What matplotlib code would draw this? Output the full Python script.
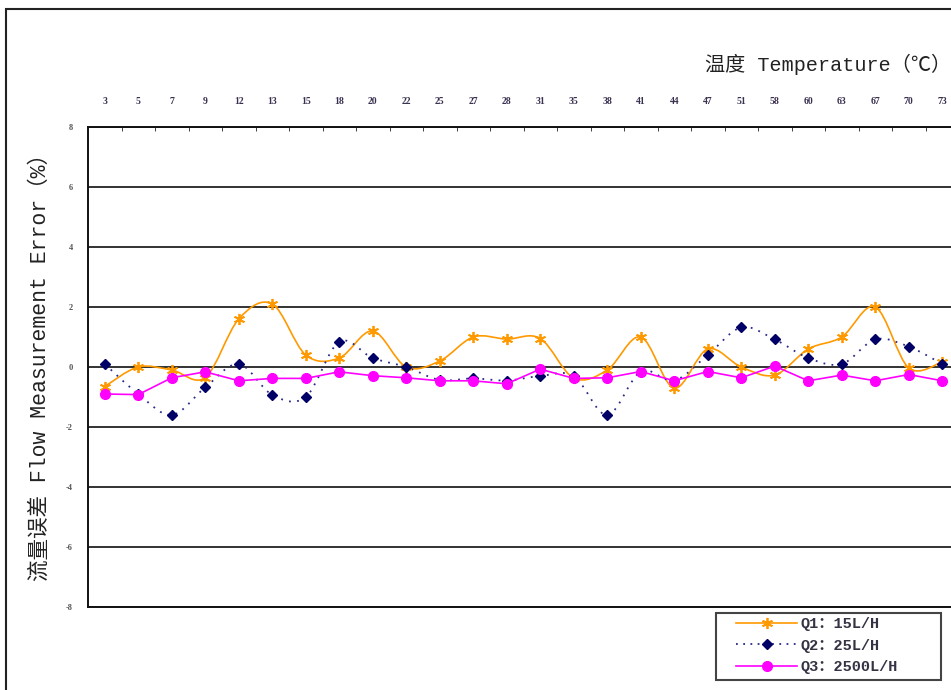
import matplotlib.pyplot as plt
import numpy as np
from matplotlib.path import Path
from matplotlib.patches import PathPatch, Rectangle
from matplotlib.lines import Line2D

# ---- Data ----
temps = ["3", "5", "7", "9", "12", "13", "15", "18", "20", "22", "25", "27", "28",
         "31", "35", "38", "41", "44", "47", "51", "58", "60", "63", "67", "70", "73"]
q1 = [-0.65, 0.0, -0.1, -0.35, 1.6, 2.1, 0.4, 0.3, 1.2, 0.0, 0.2, 1.0, 0.93,
      0.95, -0.37, -0.1, 1.0, -0.7, 0.6, 0.0, -0.27, 0.6, 1.0, 2.0, -0.03, 0.17]
q2 = [0.1, -0.9, -1.6, -0.68, 0.1, -0.93, -1.0, 0.84, 0.3, 0.0, -0.43, -0.38, -0.45,
      -0.3, -0.3, -1.6, -0.15, -0.45, 0.4, 1.32, 0.92, 0.3, 0.1, 0.92, 0.68, 0.1]
q3 = [-0.9, -0.92, -0.36, -0.16, -0.46, -0.38, -0.38, -0.16, -0.29, -0.36, -0.46, -0.46, -0.56,
      -0.07, -0.38, -0.36, -0.15, -0.46, -0.15, -0.36, 0.03, -0.46, -0.27, -0.46, -0.25, -0.46]
labels = ["Q1：15L/H", "Q2：25L/H", "Q3：2500L/H"]

C1 = "#FF9900"
C2 = "#000066"
C3 = "#FF00FF"

LATIN_CJK = ["Liberation Mono", "Noto Sans CJK SC", "DejaVu Sans"]
SERIF = ["Liberation Serif", "DejaVu Serif"]


def smooth_path(x, y):
    # Excel-style smoothed line: cubic Bezier with Catmull-Rom control points
    pts = np.column_stack([x, y]).astype(float)
    n = len(pts)
    verts = [pts[0]]
    codes = [Path.MOVETO]
    for i in range(n - 1):
        p0 = pts[i - 1] if i > 0 else pts[i]
        p1 = pts[i]
        p2 = pts[i + 1]
        p3 = pts[i + 2] if i + 2 < n else pts[i + 1]
        verts += [p1 + (p2 - p0) / 6, p2 - (p3 - p1) / 6, p2]
        codes += [Path.CURVE4] * 3
    return Path(verts, codes)


fig = plt.figure(figsize=(9.51, 6.9), dpi=100)
W, H = 951, 690
ax = fig.add_axes([88 / W, 1 - 607 / H, (959 - 88) / W, 480 / H])

x = np.arange(len(temps))

# Q1 smoothed solid orange with asterisk markers
ax.add_patch(PathPatch(smooth_path(x, q1), facecolor="none", edgecolor=C1, lw=1.2, zorder=3))
ax.plot(x, q1, linestyle="none", marker=(6, 2, 0), markersize=8, markeredgecolor=C1,
        markeredgewidth=1.3, zorder=4)

# Q2 smoothed dotted navy with diamonds
ax.add_patch(PathPatch(smooth_path(x, q2), facecolor="none", edgecolor="#2a2a8a", lw=1.3,
                       linestyle=(0, (1, 3.5)), zorder=3))
ax.plot(x, q2, linestyle="none", marker="D", markersize=5.5, color=C2, zorder=4)

# Q3 straight magenta with circles
ax.plot(x, q3, color=C3, lw=1.2, marker="o", markersize=7, zorder=4)

ax.set_xlim(-0.5, len(temps) - 0.5)
ax.set_ylim(-8, 8)

ax.set_yticks(np.arange(-8, 9, 2))
ax.set_yticklabels([str(v) for v in range(-8, 9, 2)], fontsize=6, fontweight="bold",
                   color="#555555", family=SERIF)
ax.yaxis.grid(True, color="#222222", lw=1.3)
ax.tick_params(axis="y", length=0, pad=11)

ax.xaxis.tick_top()
ax.set_xticks(x)
ax.set_xticklabels(temps, fontsize=7, fontweight="bold", color="#3a3050", family=SERIF)
ax.set_xticks(np.arange(len(temps)) + 0.5, minor=True)
ax.tick_params(axis="x", which="major", length=0, pad=15)
ax.tick_params(axis="x", which="minor", length=3, direction="in", color="#222222")

for s in ["top", "bottom", "left"]:
    ax.spines[s].set_color("#111111")
    ax.spines[s].set_linewidth(1.4)
ax.spines["right"].set_visible(False)
ax.set_axisbelow(True)

fig.text(705 / W, 1 - 64 / H, "温度 Temperature（℃）", ha="left", va="center",
         fontsize=14.5, family=LATIN_CJK, color="#222222")
fig.text(40 / W, 1 - 362 / H, "流量误差 Flow Measurement Error（%）", rotation=90,
         ha="center", va="center", fontsize=15.5, family=LATIN_CJK, color="#222222")

handles = [
    Line2D([0], [0], color=C1, lw=1.2, marker=(6, 2, 0), markersize=8, markeredgecolor=C1,
           markeredgewidth=1.3),
    Line2D([0], [0], color="#2a2a8a", lw=1.3, linestyle=(0, (1, 3)), marker="D",
           markersize=5.5, markerfacecolor=C2, markeredgecolor=C2),
    Line2D([0], [0], color=C3, lw=1.2, marker="o", markersize=7),
]
leg = fig.legend(handles, labels, loc="upper left", bbox_to_anchor=(736 / W, 1 - 617 / H),
                 frameon=False, handlelength=4.0, handletextpad=0.25,
                 borderpad=0, labelspacing=0.5, borderaxespad=0,
                 prop={"family": LATIN_CJK, "size": 11, "weight": "bold"})
for t in leg.get_texts():
    t.set_color("#333344")

# legend frame
fig.patches.append(Rectangle((716 / W, 1 - 680 / H), 225 / W, 67 / H, transform=fig.transFigure,
                             fill=False, edgecolor="#444444", lw=1.5))

# outer chart frame
fig.patches.append(Rectangle((6 / W, -0.05), 1.1, 1 - 9 / H + 0.05, transform=fig.transFigure,
                             fill=False, edgecolor="#222222", lw=1.5))

fig.savefig("out.png", dpi=100)
